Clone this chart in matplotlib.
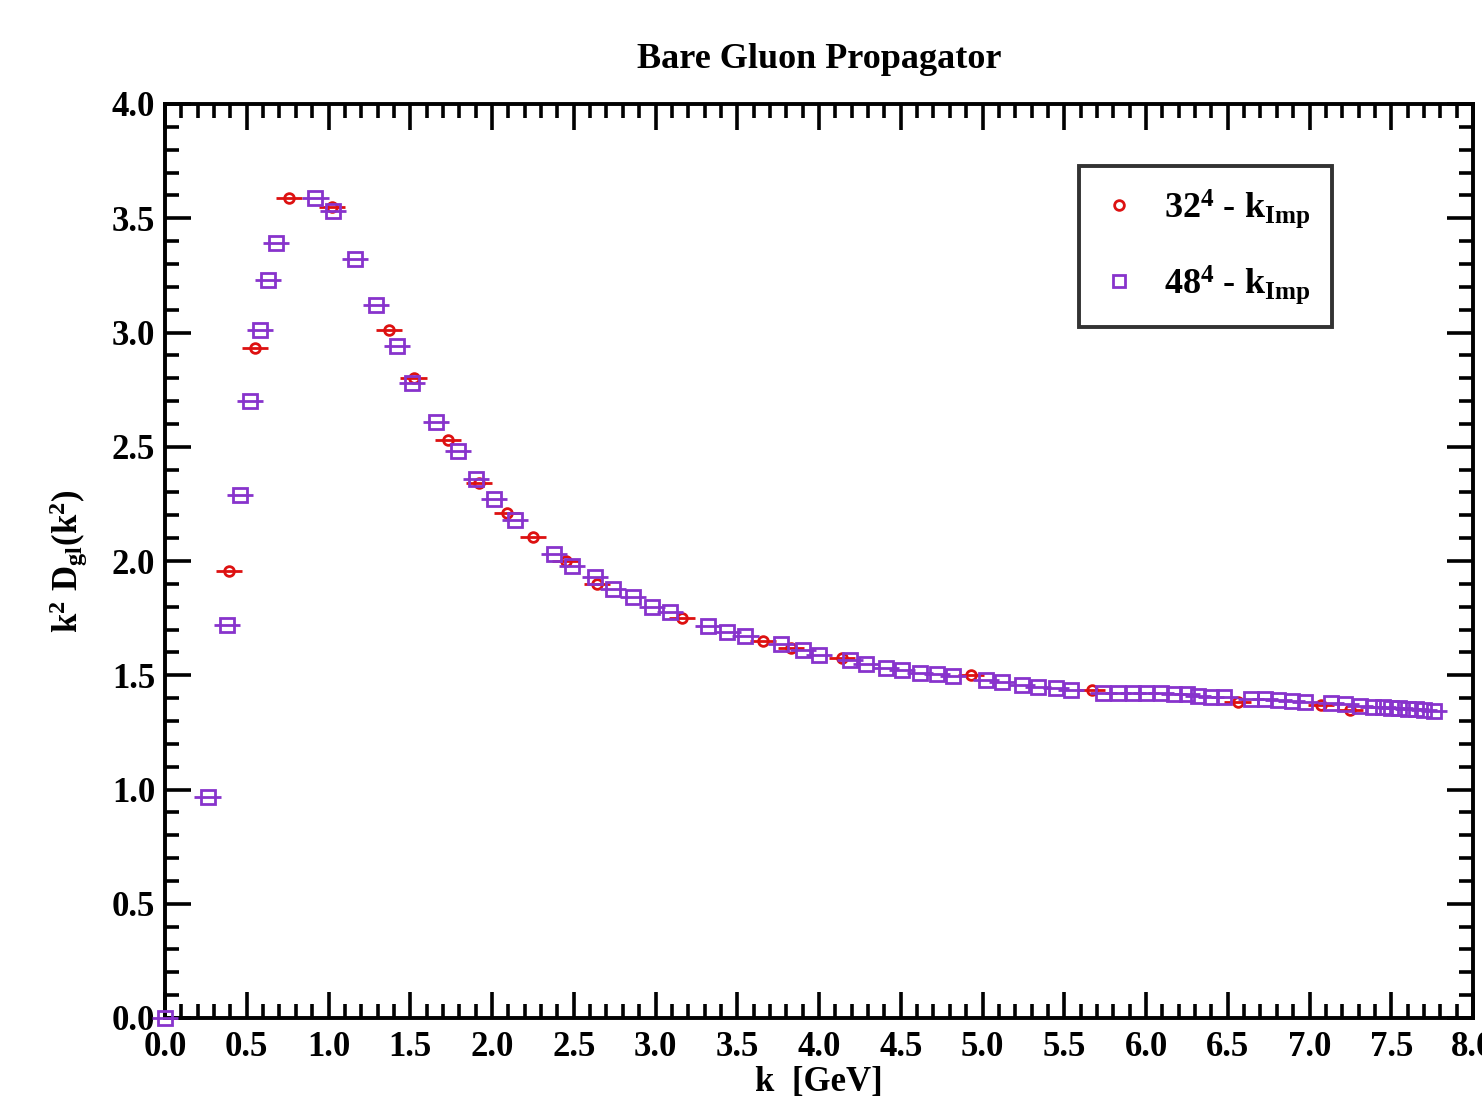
import matplotlib
matplotlib.use("Agg")
import matplotlib.pyplot as plt
from matplotlib.lines import Line2D
from matplotlib.ticker import MultipleLocator, FormatStrFormatter

# ---- data ----
k_32 = [0.39, 0.55, 0.76, 1.02, 1.37, 1.52, 1.73, 1.92, 2.09, 2.25, 2.45, 2.64,
        3.16, 3.66, 3.83, 4.14, 4.93, 5.67, 6.56, 7.07, 7.25]
v_32 = [1.956, 2.93, 3.59, 3.55, 3.01, 2.80, 2.53, 2.34, 2.21, 2.105, 2.00, 1.90,
        1.75, 1.65, 1.62, 1.575, 1.50, 1.435, 1.383, 1.37, 1.35]
kerr_32 = 0.08

k_48 = [0.0, 0.26, 0.38, 0.46, 0.52, 0.58, 0.63, 0.68, 0.92, 1.03, 1.16, 1.29,
        1.42, 1.51, 1.66, 1.79, 1.90, 2.01, 2.14, 2.38, 2.49, 2.63, 2.74, 2.86,
        2.98, 3.09, 3.32, 3.44, 3.55, 3.77, 3.90, 4.00, 4.19, 4.29, 4.41, 4.51,
        4.62, 4.72, 4.82, 5.02, 5.12, 5.24, 5.34, 5.45, 5.54, 5.74, 5.83, 5.92,
        6.00, 6.09, 6.17, 6.25, 6.32, 6.40, 6.48, 6.64, 6.73, 6.81, 6.89, 6.97,
        7.13, 7.22, 7.31, 7.39, 7.45, 7.50, 7.55, 7.60, 7.65, 7.70, 7.76]
v_48 = [0.0, 0.967, 1.72, 2.29, 2.70, 3.01, 3.23, 3.39, 3.59, 3.53, 3.32, 3.12,
        2.94, 2.78, 2.61, 2.48, 2.36, 2.27, 2.18, 2.03, 1.98, 1.93, 1.877, 1.842,
        1.80, 1.777, 1.717, 1.69, 1.673, 1.635, 1.61, 1.589, 1.567, 1.549, 1.532, 1.523,
        1.510, 1.506, 1.497, 1.479, 1.471, 1.457, 1.448, 1.444, 1.435, 1.422, 1.422, 1.422,
        1.422, 1.422, 1.418, 1.418, 1.409, 1.405, 1.405, 1.396, 1.396, 1.392, 1.387, 1.383,
        1.379, 1.374, 1.365, 1.361, 1.360, 1.358, 1.356, 1.354, 1.352, 1.350, 1.344]
kerr_48 = 0.08

title = "Bare Gluon Propagator"
xlabel = "k  [GeV]"
ylabel = r"$\mathrm{k}^{2}\ \mathrm{D}_{\mathrm{gl}}(\mathrm{k}^{2})$"
label_32 = r"32$^{4}$ - k$_{\mathrm{Imp}}$"
label_48 = r"48$^{4}$ - k$_{\mathrm{Imp}}$"

# ---- style ----
plt.rcParams['font.family'] = ['Liberation Serif', 'DejaVu Serif']
plt.rcParams['font.weight'] = 'bold'
plt.rcParams['mathtext.fontset'] = 'custom'
plt.rcParams['mathtext.rm'] = 'Liberation Serif:bold'
plt.rcParams['mathtext.it'] = 'Liberation Serif:bold'
plt.rcParams['mathtext.bf'] = 'Liberation Serif:bold'

red = '#dd1111'
purple = '#8833cc'

fig = plt.figure(figsize=(14.82, 10.98), dpi=100)
ax = fig.add_axes([165/1482, 1 - 1018/1098, (1473-165)/1482, (1018-104)/1098])

ax.errorbar(k_32, v_32, xerr=kerr_32, fmt='o', color=red, mfc='none', mec=red,
            ms=7, mew=2.0, elinewidth=2.0, capsize=0, zorder=3)
ax.errorbar(k_48, v_48, xerr=kerr_48, fmt='s', color=purple, mfc='none', mec=purple,
            ms=9.5, mew=2.0, elinewidth=2.0, capsize=0, zorder=4, clip_on=False)

ax.set_xlim(0, 8)
ax.set_ylim(0, 4)
ax.xaxis.set_major_locator(MultipleLocator(0.5))
ax.xaxis.set_minor_locator(MultipleLocator(0.1))
ax.yaxis.set_major_locator(MultipleLocator(0.5))
ax.yaxis.set_minor_locator(MultipleLocator(0.1))
ax.xaxis.set_major_formatter(FormatStrFormatter('%.1f'))
ax.yaxis.set_major_formatter(FormatStrFormatter('%.1f'))
ax.tick_params(which='both', direction='in', top=True, right=True, width=2.6)
ax.tick_params(which='major', length=19, labelsize=25)
ax.tick_params(axis='x', which='major', pad=9)
ax.tick_params(axis='y', which='major', pad=7)
ax.tick_params(which='minor', length=10)
for s in ax.spines.values():
    s.set_linewidth(2.8)

ax.set_title(title, fontsize=26, fontweight='bold', pad=26)
ax.set_xlabel(xlabel, fontsize=25, fontweight='bold', labelpad=2)
ax.set_ylabel(ylabel, fontsize=25, labelpad=16)

handles = [Line2D([], [], ls='none', marker='o', mfc='none', mec=red, ms=7, mew=2.0),
           Line2D([], [], ls='none', marker='s', mfc='none', mec=purple, ms=8, mew=2.0)]
leg = ax.legend(handles, [label_32, label_48], loc='upper left',
                bbox_to_anchor=(0.699, 0.932), fontsize=26, frameon=True,
                fancybox=False, edgecolor='black', handlelength=1.0,
                handletextpad=0.75, borderpad=0.6, labelspacing=0.9, borderaxespad=0)
leg.get_frame().set_linewidth(2.8)

fig.savefig('out.png', dpi=100)
